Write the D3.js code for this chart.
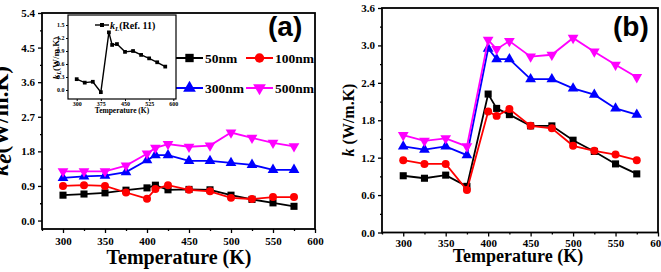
<!DOCTYPE html>
<html>
<head>
<meta charset="utf-8">
<script src="https://cdn.jsdelivr.net/npm/d3@7"></script>
<style>
body { margin: 0; background: #fff; }
text { font-family: "Liberation Serif", "Times New Roman", serif; font-weight: bold; }
.tag { font-family: "Liberation Sans", Arial, sans-serif; }
</style>
</head>
<body>
<script>
// temperatures (K)
var temps = [300, 325, 350, 375, 400, 410, 425, 450, 475, 500, 525, 550, 575];

// (a) electronic thermal conductivity ke
var ke50  = [0.66, 0.69, 0.72, 0.79, 0.85, 0.92, 0.80, 0.81, 0.80, 0.66, 0.55, 0.46, 0.37];
var ke100 = [0.90, 0.92, 0.90, 0.73, 0.57, 0.82, 0.92, 0.80, 0.76, 0.59, 0.56, 0.61, 0.61];
var ke300 = [1.11, 1.15, 1.17, 1.26, 1.57, 1.70, 1.70, 1.55, 1.55, 1.50, 1.45, 1.32, 1.32];
var ke500 = [1.28, 1.28, 1.28, 1.43, 1.74, 1.89, 1.99, 1.92, 1.95, 2.29, 2.15, 2.02, 1.93];

// (b) total thermal conductivity k
var k50  = [0.91, 0.87, 0.92, 0.74, 2.22, 1.99, 1.89, 1.71, 1.71, 1.48, 1.30, 1.10, 0.94];
var k100 = [1.16, 1.10, 1.10, 0.68, 1.94, 1.87, 1.98, 1.71, 1.67, 1.39, 1.31, 1.25, 1.16];
var k300 = [1.38, 1.33, 1.38, 1.24, 2.95, 2.78, 2.78, 2.46, 2.46, 2.31, 2.21, 1.99, 1.89];
var k500 = [1.56, 1.47, 1.51, 1.38, 3.09, 2.94, 3.07, 2.82, 2.85, 3.12, 2.90, 2.69, 2.49];

// inset: lattice thermal conductivity kL (Ref. 11)
var kL = [0.25, 0.17, 0.19, -0.05, 1.33, 1.04, 1.06, 0.88, 0.90, 0.81, 0.73, 0.64, 0.54];

var seriesNames = ['50nm', '100nm', '300nm', '500nm'];
var seriesColors = ['#000000', '#ff0000', '#0000ff', '#ff00ff'];
var seriesShapes = ['square', 'circle', 'up', 'down'];

var xTicks = [300, 350, 400, 450, 500, 550, 600];
var keTicks = [0, 0.9, 1.8, 2.7, 3.6, 4.5, 5.4];
var kTicks = [0, 0.6, 1.2, 1.8, 2.4, 3.0, 3.6];
var insetXTicks = [300, 375, 450, 525, 600];
var insetYTicks = [0, 0.3, 0.6, 0.9, 1.2, 1.5];

var svg = d3.select('body').append('svg')
            .attr('width', 661)
            .attr('height', 272);

var symbolPath = function(shape, size){
  var type = d3.symbolSquare;
  if (shape == 'circle') type = d3.symbolCircle;
  if (shape == 'up' || shape == 'down') type = d3.symbolTriangle;
  return d3.symbol().type(type).size(size)();
};

var drawMarker = function(g, shape, x, y, color, size){
  g.append('path')
   .attr('d', symbolPath(shape, size))
   .attr('fill', color)
   .attr('transform', 'translate(' + x + ',' + y + ')' + (shape == 'down' ? ' rotate(180)' : ''));
};

var drawPanel = function(p){
  var g = svg.append('g');
  var x = d3.scaleLinear().domain([275, 600]).range(p.xRange);
  var y = d3.scaleLinear().domain(p.yDomain).range(p.yRange);

  // minor ticks
  var xMinor = d3.axisBottom(x).tickValues([275, 325, 375, 425, 475, 525, 575]).tickSize(2).tickFormat('');
  var yMinor = d3.axisLeft(y).tickValues(p.yTicks.slice(1).map(function(t, i){ return (t + p.yTicks[i]) / 2; }))
                 .tickSize(2).tickFormat('');
  g.append('g').attr('transform', 'translate(0,' + p.yRange[0] + ')').call(xMinor);
  g.append('g').attr('transform', 'translate(' + p.xRange[0] + ',0)').call(yMinor);

  var xAxis = d3.axisBottom(x).tickValues(xTicks).tickSize(4).tickPadding(p.xPad).tickSizeOuter(0);
  var yAxis = d3.axisLeft(y).tickValues(p.yTicks).tickSize(4).tickPadding(3).tickFormat(d3.format('.1f')).tickSizeOuter(0);
  g.append('g').attr('transform', 'translate(0,' + p.yRange[0] + ')').call(xAxis);
  g.append('g').attr('transform', 'translate(' + p.xRange[0] + ',0)').call(yAxis);
  g.selectAll('.tick text').attr('font-size', 11).attr('fill', '#000')
   .style('font-family', '"Liberation Serif", serif').style('font-weight', 'bold');
  g.selectAll('.tick line').attr('stroke', '#000').attr('stroke-width', 1.3);
  g.selectAll('.domain').remove();

  g.append('rect')
   .attr('x', p.xRange[0]).attr('y', p.yRange[1])
   .attr('width', p.xRange[1] - p.xRange[0])
   .attr('height', p.yRange[0] - p.yRange[1])
   .attr('fill', 'none').attr('stroke', '#000').attr('stroke-width', 1.8);

  var line = d3.line()
               .x(function(d, i){ return x(temps[i]); })
               .y(function(d){ return y(d); });

  p.series.forEach(function(vals, s){
    g.append('path')
     .datum(vals)
     .attr('d', line)
     .attr('fill', 'none')
     .attr('stroke', seriesColors[s])
     .attr('stroke-width', 1.8);
    vals.forEach(function(v, i){
      drawMarker(g, seriesShapes[s], x(temps[i]), y(v), seriesColors[s], 50);
    });
  });
  return g;
};

drawPanel({
  xRange: [42, 315], yRange: [229, 13], yDomain: [-0.22, 5.4],
  yTicks: keTicks, xPad: 4,
  series: [ke50, ke100, ke300, ke500]
});
drawPanel({
  xRange: [382, 658], yRange: [232.5, 8], yDomain: [0, 3.6],
  yTicks: kTicks, xPad: 3,
  series: [k50, k100, k300, k500]
});

// axis titles
svg.append('text').attr('x', 179).attr('y', 264).attr('text-anchor', 'middle')
   .attr('font-size', 20).text('Temperature (K)');
svg.append('text').attr('x', 518).attr('y', 262).attr('text-anchor', 'middle')
   .attr('font-size', 18).text('Temperature (K)');

// left title sits partly beyond the page edge, as in the source figure
var keTitle = svg.append('text')
                 .attr('text-anchor', 'middle')
                 .attr('font-size', 23)
                 .attr('transform', 'translate(8,121) rotate(-90)');
keTitle.append('tspan').attr('font-style', 'italic').text('κ');
keTitle.append('tspan').attr('font-style', 'italic').attr('dy', 3).text('e');
keTitle.append('tspan').attr('dy', -3).text('(W/m.K)');

var kTitle = svg.append('text')
                .attr('text-anchor', 'middle')
                .attr('font-size', 16)
                .attr('transform', 'translate(354,120) rotate(-90)');
kTitle.append('tspan').attr('font-style', 'italic').text('k');
kTitle.append('tspan').text(' (W/m.K)');

// panel tags
svg.append('text').attr('class', 'tag').attr('x', 268).attr('y', 36).attr('font-size', 28).text('(a)');
svg.append('text').attr('class', 'tag').attr('x', 613).attr('y', 36).attr('font-size', 28).text('(b)');

// legend in (a)
var legend = svg.append('g').classed('legend', true);
var legendPos = [[176, 58], [246, 58], [176, 88], [246, 88]];
seriesNames.forEach(function(name, s){
  var lx = legendPos[s][0], ly = legendPos[s][1];
  legend.append('line')
        .attr('x1', lx).attr('x2', lx + 27).attr('y1', ly).attr('y2', ly)
        .attr('stroke', seriesColors[s]).attr('stroke-width', 2);
  drawMarker(legend, seriesShapes[s], lx + 13.5, ly, seriesColors[s], 70);
  legend.append('text').attr('x', lx + 29).attr('y', ly).attr('dy', '0.35em')
        .attr('font-size', 13.5).text(name);
});

// inset
var inset = svg.append('g').classed('inset', true);
var ix = d3.scaleLinear().domain([300, 600]).range([76.7, 173.3]);
var iy = d3.scaleLinear().domain([0, 1.5]).range([90, 25]);
var ibox = { x0: 68, x1: 176, y0: 15, y1: 99 };
inset.append('rect')
     .attr('x', ibox.x0).attr('y', ibox.y0)
     .attr('width', ibox.x1 - ibox.x0).attr('height', ibox.y1 - ibox.y0)
     .attr('fill', '#fff');
var ixAxis = d3.axisBottom(ix).tickValues(insetXTicks).tickSize(2).tickPadding(1).tickSizeOuter(0);
var iyAxis = d3.axisLeft(iy).tickValues(insetYTicks).tickSize(2).tickPadding(1.5).tickFormat(d3.format('.1f')).tickSizeOuter(0);
inset.append('g').attr('transform', 'translate(0,' + ibox.y1 + ')').call(ixAxis);
inset.append('g').attr('transform', 'translate(' + ibox.x0 + ',0)').call(iyAxis);
inset.selectAll('.tick text').attr('font-size', 6).attr('fill', '#000')
     .style('font-family', '"Liberation Serif", serif').style('font-weight', 'bold');
inset.selectAll('.tick line').attr('stroke', '#000');
inset.selectAll('.domain').remove();
inset.append('rect')
     .attr('x', ibox.x0).attr('y', ibox.y0)
     .attr('width', ibox.x1 - ibox.x0).attr('height', ibox.y1 - ibox.y0)
     .attr('fill', 'none').attr('stroke', '#000').attr('stroke-width', 1.2);

var iline = d3.line()
              .x(function(d, i){ return ix(temps[i]); })
              .y(function(d){ return iy(d); });
inset.append('path').datum(kL).attr('d', iline)
     .attr('fill', 'none').attr('stroke', '#000').attr('stroke-width', 1.4);
kL.forEach(function(v, i){
  drawMarker(inset, 'square', ix(temps[i]), iy(v), '#000', 14);
});

inset.append('line').attr('x1', 95).attr('x2', 109).attr('y1', 25).attr('y2', 25)
     .attr('stroke', '#000').attr('stroke-width', 1.4);
drawMarker(inset, 'square', 102, 25, '#000', 16);
var ilegText = inset.append('text').attr('x', 110).attr('y', 25).attr('dy', '0.35em').attr('font-size', 10);
ilegText.append('tspan').attr('font-style', 'italic').text('k');
ilegText.append('tspan').attr('font-style', 'italic').attr('font-size', 7).attr('dy', 2).text('L');
ilegText.append('tspan').attr('dy', -2).text('(Ref. 11)');

inset.append('text').attr('x', 122).attr('y', 112.5).attr('text-anchor', 'middle')
     .attr('font-size', 7.5).text('Temperature (K)');
var iyTitle = inset.append('text').attr('text-anchor', 'middle').attr('font-size', 9)
                   .attr('transform', 'translate(58.5,58) rotate(-90)');
iyTitle.append('tspan').attr('font-style', 'italic').text('k');
iyTitle.append('tspan').attr('font-style', 'italic').attr('font-size', 6.5).attr('dy', 2).text('L');
iyTitle.append('tspan').attr('dy', -2).text('(W/m.K)');
</script>
</body>
</html>
